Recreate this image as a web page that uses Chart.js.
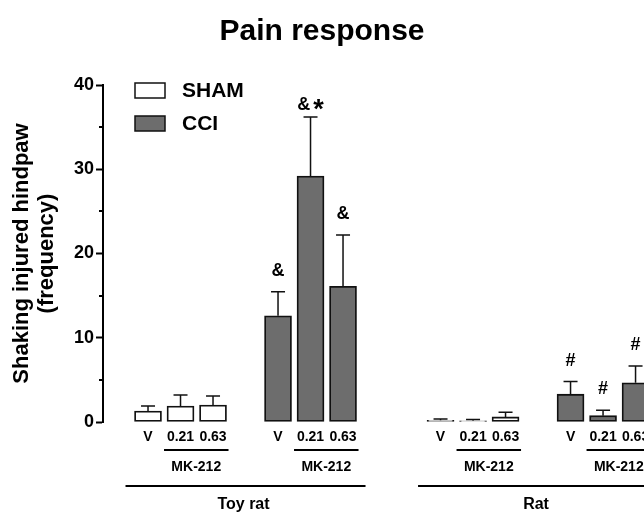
<!DOCTYPE html>
<html>
<head>
<meta charset="utf-8">
<script src="https://cdn.jsdelivr.net/npm/chart.js@4/dist/chart.umd.min.js"></script>
<style>
  html, body { margin: 0; padding: 0; background: #fff; overflow: hidden; }
  #wrap { width: 644px; height: 513px; }
</style>
</head>
<body>
<div id="wrap"><canvas id="c" width="644" height="513"></canvas></div>
<script>
// Groups of animals and dose labels (V = vehicle, MK-212 doses in mg/kg)
const groups = ['Toy rat', 'Rat'];
const doseLabels = ['V', '0.21', '0.63'];
const drugLabel = 'MK-212';

// Mean shaking frequency, ordered Toy rat V/0.21/0.63 then Rat V/0.21/0.63
const shamMeans = [1.3, 1.9, 2.0, 0.2, 0.15, 0.6];
const shamErr   = [0.6, 1.3, 1.1, 0.15, 0.15, 0.55];
const cciMeans  = [12.6, 29.2, 16.1, 3.3, 0.75, 4.65];
const cciErr    = [2.85, 7.0, 6.1, 1.5, 0.65, 2.0];
// Significance marks above the CCI bars
const cciMarks  = ['&', '&*', '&', '#', '#', '#'];

const yTicks = [0, 10, 20, 30, 40];
const yMinorTicks = [5, 15, 25, 35];

// Slot index on the x axis: 3 doses per cluster, one empty slot between
// SHAM and CCI, two empty slots between animal groups.
function slot(groupIdx, treatIdx, doseIdx) {
  return groupIdx * 9 + treatIdx * 4 + doseIdx;
}
function points(means, treatIdx) {
  return means.map((v, i) => ({ x: slot(Math.floor(i / 3), treatIdx, i % 3), y: v }));
}

const FONT = '"Liberation Sans", Arial, Helvetica, sans-serif';
Chart.defaults.font.family = FONT;
Chart.defaults.color = '#000';

const errorBars = {
  id: 'errorBars',
  afterDatasetsDraw(chart) {
    const ctx = chart.ctx;
    const ys = chart.scales.y;
    chart.data.datasets.forEach((ds, di) => {
      const meta = chart.getDatasetMeta(di);
      meta.data.forEach((el, i) => {
        const top = ys.getPixelForValue(ds.data[i].y + ds.errors[i]);
        ctx.save();
        ctx.strokeStyle = '#111';
        ctx.lineWidth = 1.5;
        ctx.beginPath();
        ctx.moveTo(el.x, el.y);
        ctx.lineTo(el.x, top);
        ctx.moveTo(el.x - 7, top);
        ctx.lineTo(el.x + 7, top);
        ctx.stroke();
        // significance marks
        if (ds.marks) {
          const mark = ds.marks[i];
          const y = Math.max(top - 21, chart.chartArea.top + 20);
          ctx.fillStyle = '#000';
          ctx.textBaseline = 'middle';
          if (mark.includes('*')) {
            ctx.font = 'bold 18px ' + FONT;
            const w1 = ctx.measureText('&').width;
            ctx.font = 'bold 27px ' + FONT;
            const w2 = ctx.measureText('*').width;
            const gap = 3;
            const start = el.x - (w1 + gap + w2) / 2;
            ctx.textAlign = 'left';
            ctx.font = 'bold 18px ' + FONT;
            ctx.fillText('&', start, y);
            ctx.font = 'bold 27px ' + FONT;
            ctx.fillText('*', start + w1 + gap, y + 6);
          } else {
            ctx.textAlign = 'center';
            ctx.font = 'bold 18px ' + FONT;
            ctx.fillText(mark, el.x, y);
          }
        }
        ctx.restore();
      });
    });
  }
};

const axisDecor = {
  id: 'axisDecor',
  afterDraw(chart) {
    const ctx = chart.ctx;
    const xs = chart.scales.x;
    const ys = chart.scales.y;
    const bottom = chart.chartArea.bottom;
    const half = 13.5;
    ctx.save();
    // minor ticks on the y axis
    ctx.strokeStyle = '#000';
    ctx.lineWidth = 2;
    yMinorTicks.forEach(v => {
      const py = Math.round(ys.getPixelForValue(v));
      ctx.beginPath();
      ctx.moveTo(ys.right, py);
      ctx.lineTo(ys.right - 4, py);
      ctx.stroke();
    });
    ctx.fillStyle = '#000';
    ctx.textAlign = 'center';
    ctx.textBaseline = 'middle';
    groups.forEach((g, gi) => {
      [0, 1].forEach(ti => {
        // dose labels under each bar
        ctx.font = 'bold 14px ' + FONT;
        doseLabels.forEach((d, di) => {
          ctx.fillText(d, xs.getPixelForValue(slot(gi, ti, di)), bottom + 15);
        });
        // drug bracket under the two doses
        const a = xs.getPixelForValue(slot(gi, ti, 1)) - half - 3;
        const b = xs.getPixelForValue(slot(gi, ti, 2)) + half + 2;
        ctx.lineWidth = 2;
        ctx.beginPath();
        ctx.moveTo(a, bottom + 28);
        ctx.lineTo(b, bottom + 28);
        ctx.stroke();
        ctx.fillText(drugLabel, (a + b) / 2, bottom + 45);
      });
      // group line and name
      const l = xs.getPixelForValue(slot(gi, 0, 0)) - half - 9;
      const r = xs.getPixelForValue(slot(gi, 1, 2)) + half + 9;
      ctx.lineWidth = 2;
      ctx.beginPath();
      ctx.moveTo(l, bottom + 64);
      ctx.lineTo(r, bottom + 64);
      ctx.stroke();
      ctx.font = 'bold 16px ' + FONT;
      ctx.fillText(g, (l + r) / 2 - 2, bottom + 83);
    });
    // legend
    const lx = 135, ly = [83, 116];
    chart.data.datasets.forEach((ds, i) => {
      ctx.fillStyle = ds.backgroundColor;
      ctx.fillRect(lx, ly[i], 30, 15);
      ctx.strokeStyle = '#111';
      ctx.lineWidth = 1.5;
      ctx.strokeRect(lx, ly[i], 30, 15);
      ctx.fillStyle = '#000';
      ctx.textAlign = 'left';
      ctx.font = 'bold 21px ' + FONT;
      ctx.fillText(ds.label, 182, ly[i] + 8);
    });
    ctx.restore();
  }
};

new Chart(document.getElementById('c'), {
  type: 'bar',
  data: {
    datasets: [
      {
        label: 'SHAM',
        data: points(shamMeans, 0),
        errors: shamErr,
        backgroundColor: '#ffffff',
        borderColor: '#111',
        borderWidth: 1.8,
        borderSkipped: false,
        barThickness: 27
      },
      {
        label: 'CCI',
        data: points(cciMeans, 1),
        errors: cciErr,
        marks: cciMarks,
        backgroundColor: '#6d6d6d',
        borderColor: '#111',
        borderWidth: 1.8,
        borderSkipped: false,
        barThickness: 27
      }
    ]
  },
  options: {
    responsive: false,
    animation: false,
    grouped: false,
    layout: { padding: { left: 0, right: 0, top: 0, bottom: 91 } },
    plugins: {
      legend: { display: false },
      tooltip: { enabled: false },
      title: {
        display: true,
        text: 'Pain response',
        font: { size: 30, weight: 'bold' },
        color: '#000',
        padding: { top: 14, bottom: 35 }
      }
    },
    scales: {
      x: {
        type: 'linear',
        display: false,
        offset: false,
        min: -1.385,
        max: 15.26
      },
      y: {
        min: 0,
        max: 40,
        afterBuildTicks(scale) {
          scale.ticks = yTicks.map(v => ({ value: v }));
        },
        afterFit(scale) { scale.width = 103; },
        border: { display: true, color: '#000', width: 2 },
        grid: {
          drawOnChartArea: false,
          drawTicks: true,
          tickLength: 7,
          tickWidth: 2,
          tickColor: '#000'
        },
        ticks: {
          font: { size: 18, weight: 'bold' },
          color: '#000',
          padding: 2
        },
        title: {
          display: true,
          text: ['Shaking injured hindpaw', '(frequency)'],
          font: { size: 22, weight: 'bold', lineHeight: 1.15 },
          color: '#000',
          padding: { top: 9, bottom: 0 }
        }
      }
    }
  },
  plugins: [errorBars, axisDecor]
});
</script>
</body>
</html>
